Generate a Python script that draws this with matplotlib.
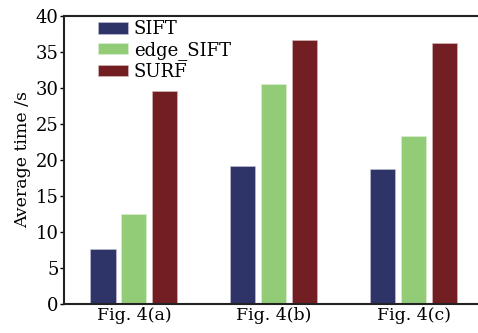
import matplotlib
matplotlib.use("Agg")
from matplotlib import pyplot as plt
import numpy as np

groups = ["Fig. 4(a)", "Fig. 4(b)", "Fig. 4(c)"]
sift = [7.6, 19.2, 18.7]
edge_sift = [12.45, 30.5, 23.4]
surf = [29.6, 36.7, 36.2]

plt.rcParams['font.family'] = ['DejaVu Serif']

fig = plt.figure(figsize=(4.78, 3.33), dpi=100)
ax = fig.add_axes([64 / 478, 29 / 333, 419.5 / 478, 288 / 333])

x = np.arange(len(groups))
w = 0.179
step = 0.221
ax.bar(x - step, sift, w, color="#2e3368", edgecolor="#c8c8d8", linewidth=0.4, label="SIFT")
ax.bar(x, edge_sift, w, color="#92cc76", edgecolor="#e0eed8", linewidth=0.4, label="edge_SIFT")
ax.bar(x + step, surf, w, color="#731e22", edgecolor="#d8c0c0", linewidth=0.4, label="SURF")

ax.set_xlim(-0.5, 2.5)
ax.set_ylim(0, 40)
ax.set_yticks(range(0, 41, 5))
ax.set_xticks(x)
ax.set_xticklabels(groups)
ax.tick_params(axis="y", direction="out", length=3, width=1, labelsize=13, pad=1)
ax.tick_params(axis="x", length=0, labelsize=12.5, pad=2)
ax.set_ylabel("Average time /s", fontsize=12.5, labelpad=3)

for s in ["top", "bottom", "left"]:
    ax.spines[s].set_linewidth(1.5)
    ax.spines[s].set_color("#222222")
ax.spines["right"].set_visible(False)

ax.legend(loc="upper left", bbox_to_anchor=(0.08, 0.985), frameon=False, fontsize=13,
          handlelength=1.7, handleheight=0.6, handletextpad=0.3, labelspacing=0.15,
          borderaxespad=0, borderpad=0)

fig.savefig("out.png", dpi=100)
